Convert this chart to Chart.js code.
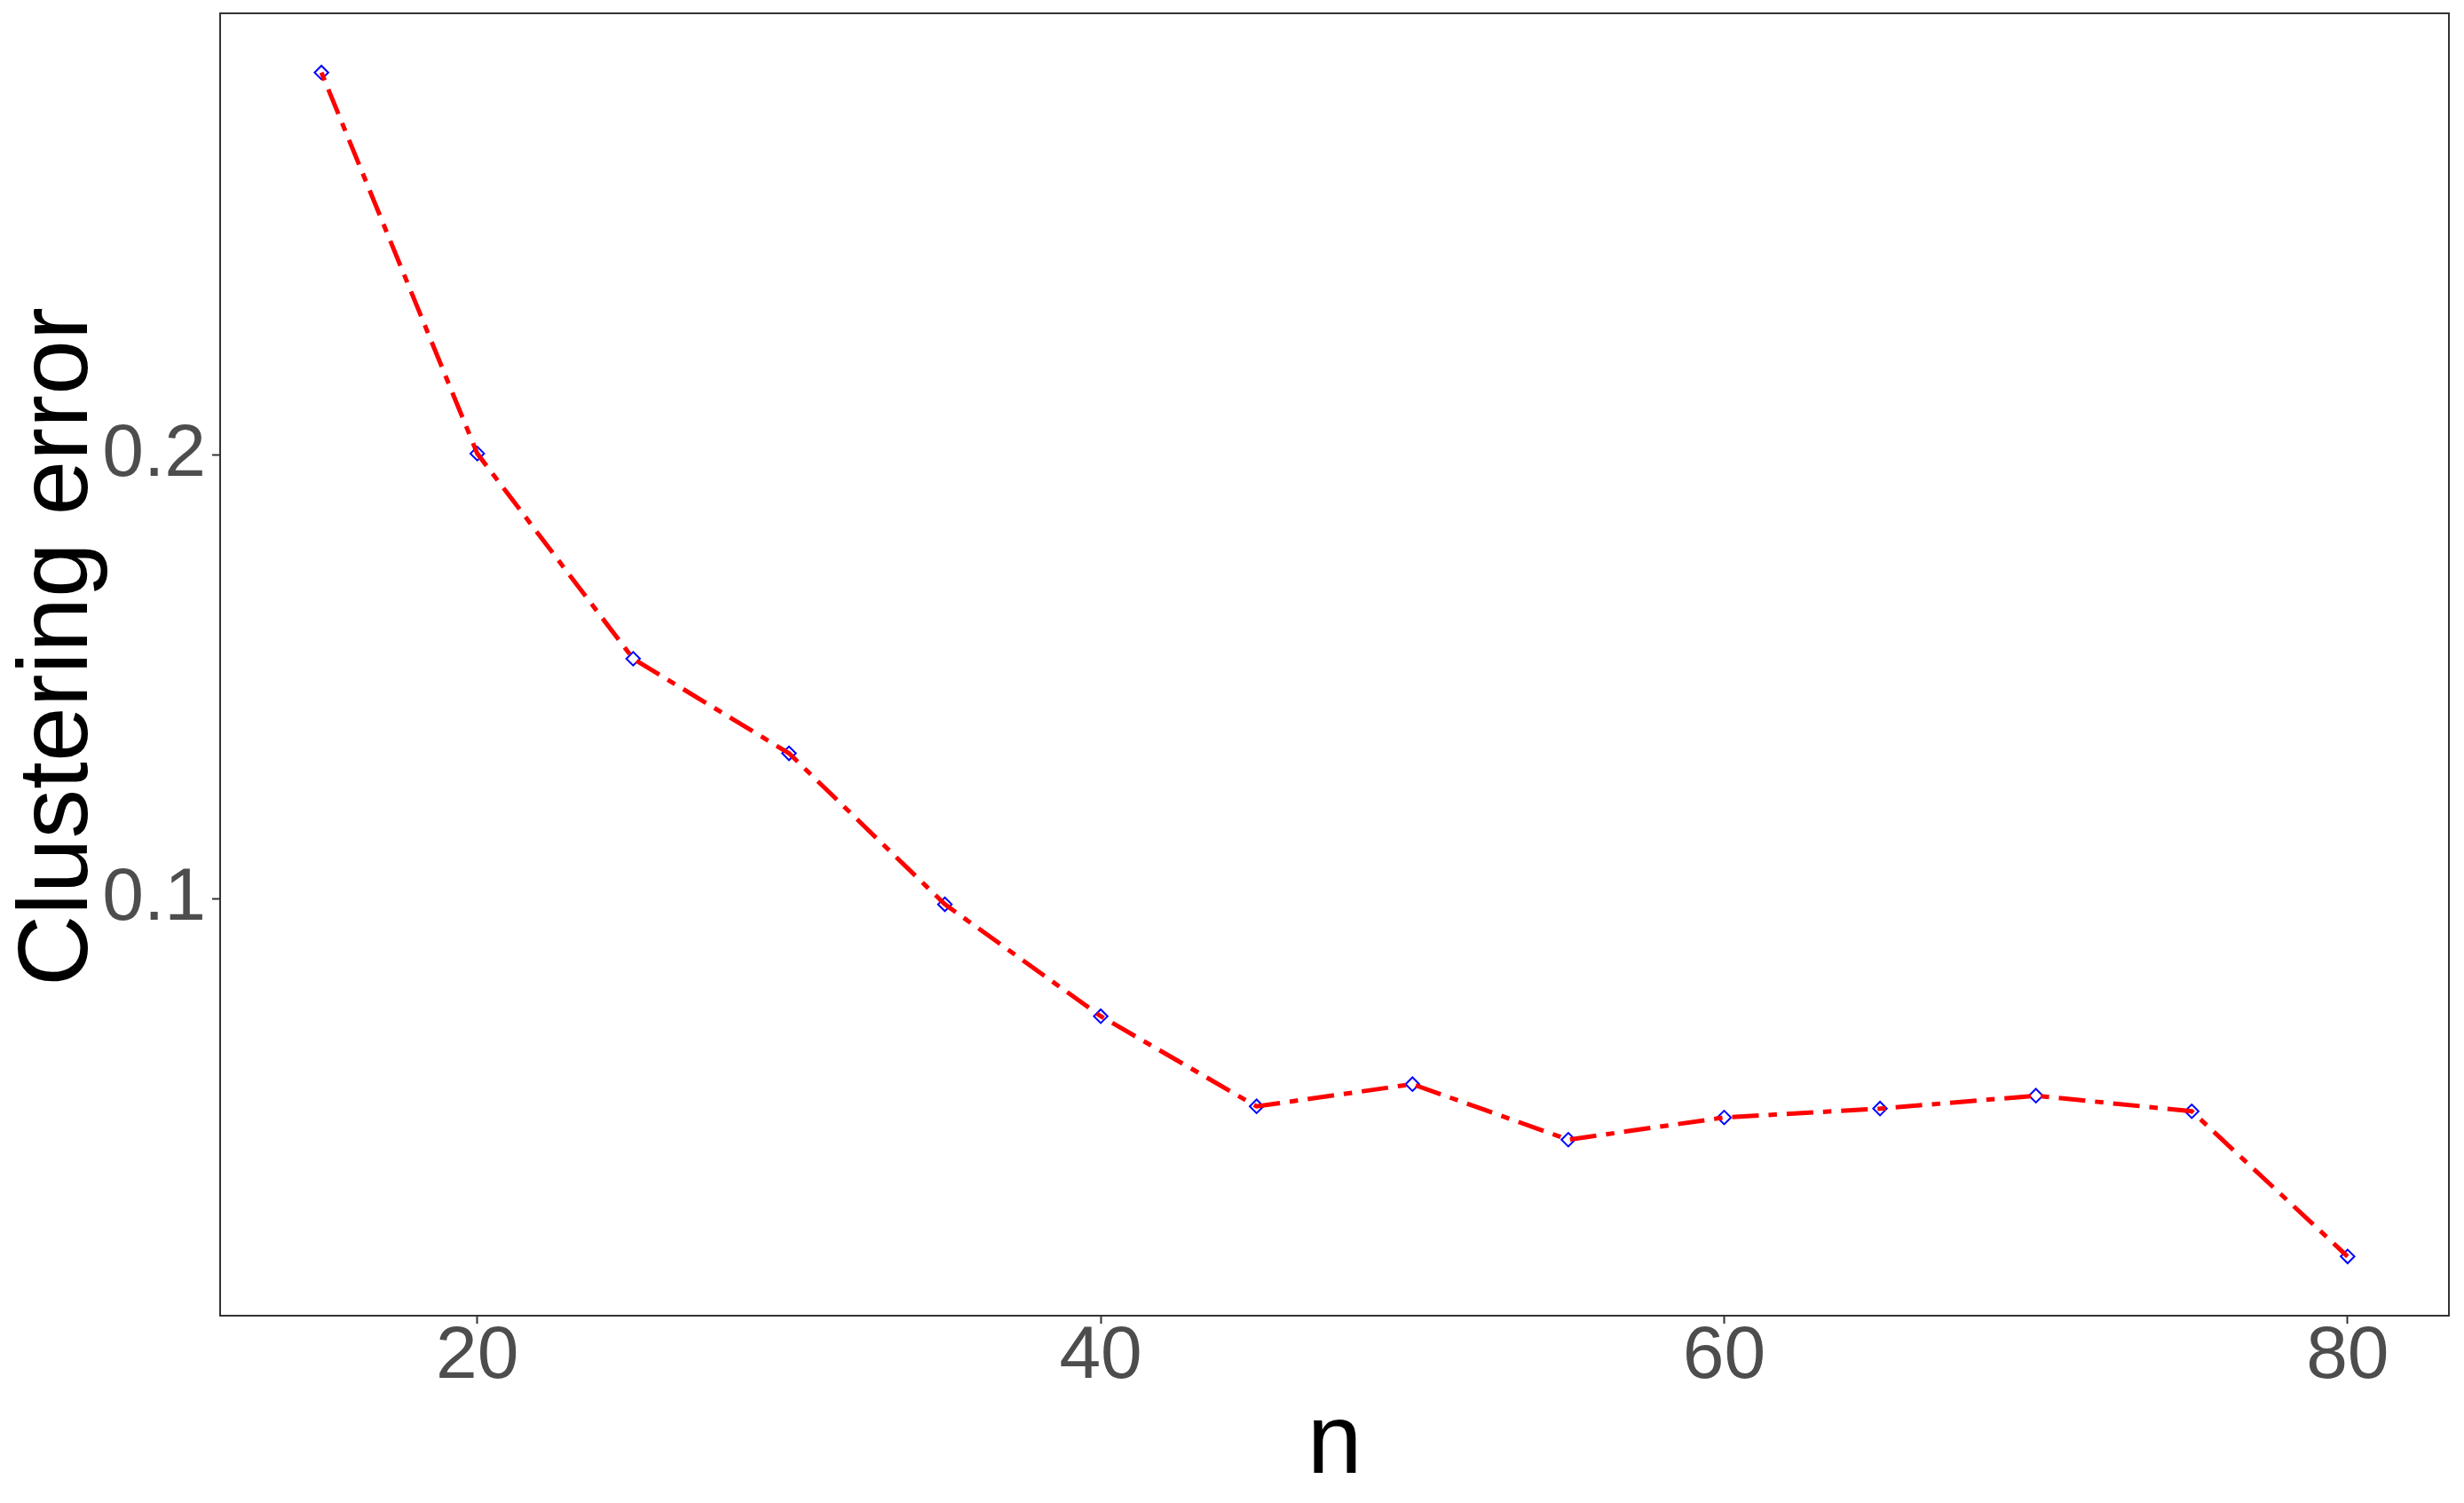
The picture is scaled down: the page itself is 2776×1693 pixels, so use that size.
<!DOCTYPE html>
<html>
<head>
<meta charset="utf-8">
<script src="https://cdn.jsdelivr.net/npm/chart.js@4"></script>
<style>
  html, body { margin: 0; padding: 0; background: #fff; }
  #c { display: block; }
</style>
</head>
<body>
<canvas id="c" width="2776" height="1693"></canvas>
<script>
// values
var nValues = [15, 20, 25, 30, 35, 40, 45, 50, 55, 60, 65, 70, 75, 80];
var clusteringError = [0.2861, 0.2003, 0.1541, 0.1328, 0.0988, 0.0736, 0.0533, 0.0583, 0.0458, 0.0508, 0.0528, 0.0557, 0.0522, 0.0195];
var xTicks = [20, 40, 60, 80];
var yTicks = [0.1, 0.2];
var xTitle = 'n';
var yTitle = 'Clustering error';

var FONT = "'Liberation Sans', Arial, Helvetica, sans-serif";

function pts() {
  return nValues.map(function(n, i) { return { x: n, y: clusteringError[i] }; });
}

// ggplot-ish expanded range (5% each side)
function expand(arr) {
  var lo = Math.min.apply(null, arr), hi = Math.max.apply(null, arr);
  var pad = (hi - lo) * 0.05;
  return { min: lo - pad, max: hi + pad };
}
var xr = expand(nValues);
var yr = expand(clusteringError);

// panel border drawn over everything, like theme_bw
var panelBorder = {
  id: 'panelBorder',
  afterDatasetsDraw: function(chart) {
    var a = chart.chartArea, ctx = chart.ctx;
    ctx.save();
    ctx.strokeStyle = '#333333';
    ctx.lineWidth = 2;
    ctx.strokeRect(a.left, a.top, a.right - a.left, a.bottom - a.top);
    ctx.restore();
  }
};

// y title sits a little above the panel centre in the reference
var yTitlePlugin = {
  id: 'yTitle',
  afterDraw: function(chart) {
    var a = chart.chartArea, ctx = chart.ctx;
    ctx.save();
    ctx.translate(67, (a.top + a.bottom) / 2 - 20);
    ctx.rotate(-Math.PI / 2);
    ctx.font = '111px ' + FONT;
    ctx.fillStyle = '#000000';
    ctx.textAlign = 'center';
    ctx.textBaseline = 'middle';
    ctx.fillText(yTitle, 0, 0);
    ctx.restore();
  }
};

new Chart(document.getElementById('c').getContext('2d'), {
  type: 'scatter',
  data: {
    datasets: [
      {
        // dash-dot line, drawn on top of the markers
        data: pts(),
        showLine: true,
        borderColor: '#FF0000',
        borderWidth: 5,
        borderDash: [9.5, 11, 30, 11],
        borderCapStyle: 'butt',
        pointRadius: 0,
        fill: false,
        order: 0
      },
      {
        data: pts(),
        showLine: false,
        pointStyle: 'rectRot',
        pointRadius: 7.7,
        pointBorderWidth: 2,
        pointBorderColor: '#0000FF',
        pointBackgroundColor: 'rgba(0,0,0,0)',
        order: 1
      }
    ]
  },
  options: {
    responsive: false,
    animation: false,
    devicePixelRatio: 1,
    layout: { padding: { top: 15, right: 17, left: 0, bottom: 0 } },
    plugins: { legend: { display: false }, tooltip: { enabled: false } },
    scales: {
      x: {
        type: 'linear',
        position: 'bottom',
        min: xr.min,
        max: xr.max,
        afterFit: function(s) { s.height = 211; s.paddingLeft = 0; s.paddingRight = 0; },
        afterBuildTicks: function(s) { s.ticks = xTicks.map(function(v) { return { value: v }; }); },
        ticks: {
          stepSize: 20,
          includeBounds: false,
          color: '#4D4D4D',
          padding: 0,
          maxRotation: 0,
          font: { family: FONT, size: 84, lineHeight: 0.9 }
        },
        grid: { drawOnChartArea: false, drawTicks: true, tickLength: 9, tickWidth: 2, tickColor: '#333333' },
        border: { display: false },
        title: {
          display: true,
          text: xTitle,
          color: '#000000',
          font: { family: FONT, size: 111, lineHeight: 0.94 },
          padding: { top: 0, bottom: 12 }
        }
      },
      y: {
        type: 'linear',
        position: 'left',
        min: yr.min,
        max: yr.max,
        afterFit: function(s) { s.width = 248; s.paddingTop = 0; s.paddingBottom = 0; },
        afterBuildTicks: function(s) { s.ticks = yTicks.map(function(v) { return { value: v }; }); },
        ticks: {
          stepSize: 0.1,
          includeBounds: false,
          color: '#4D4D4D',
          padding: 7,
          font: { family: FONT, size: 84 },
          callback: function(v) { return v.toFixed(1); }
        },
        grid: { drawOnChartArea: false, drawTicks: true, tickLength: 9, tickWidth: 2, tickColor: '#333333' },
        border: { display: false },
        title: { display: false }
      }
    }
  },
  plugins: [panelBorder, yTitlePlugin]
});
</script>
</body>
</html>
